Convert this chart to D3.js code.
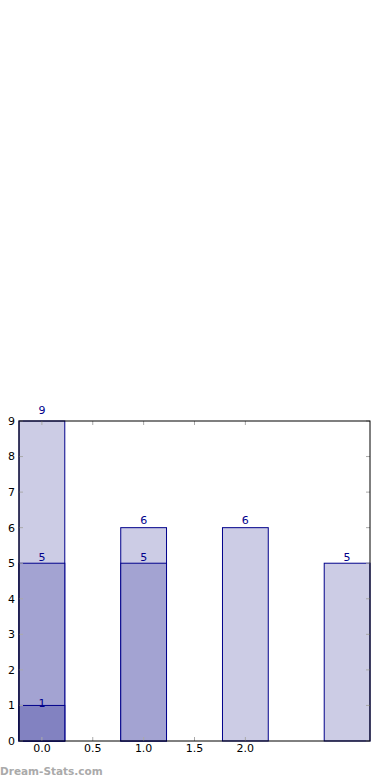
<!DOCTYPE html>
<html lang="en">
  <head>
    <meta charset="UTF-8" />
    <script src="https://d3js.org/d3.v7.min.js"></script>
    <style>
      body { margin: 0; background: #fff; }
      text { font-family: "DejaVu Sans", sans-serif; }
    </style>
  </head>
  <body>
    <div id="chart"></div>
    <script>
      // values
      var positions = [0, 1, 2, 3];
      var seriesLight = [9, 6, 6, 5];
      var seriesMid = [5, 5, 0, 0];
      var seriesDark = [1, 0, 0, 0];
      var xTicks = [0, 0.5, 1, 1.5, 2];
      var yTicks = [0, 1, 2, 3, 4, 5, 6, 7, 8, 9];

      var W = 390, H = 780;
      var margin = { top: 421, right: 20, bottom: 39, left: 19 };
      var width = W - margin.left - margin.right,
        height = H - margin.top - margin.bottom;
      var barW = 0.45;

      var svg = d3.select("#chart").append("svg")
        .attr("width", W).attr("height", H);
      var g = svg.append("g")
        .attr("transform", "translate(" + margin.left + "," + margin.top + ")");

      var x = d3.scaleLinear().domain([-0.225, 3.225]).range([0, width]);
      var y = d3.scaleLinear().domain([0, 9]).range([height, 0]);

      var layers = [
        { vals: seriesLight, fill: "#cccce5" },
        { vals: seriesMid, fill: "#a3a3d2" },
        { vals: seriesDark, fill: "#8282c1" }
      ];

      layers.forEach(function (layer) {
        var data = positions.map(function (p, i) { return { p: p, v: layer.vals[i] }; })
          .filter(function (d) { return d.v > 0; });
        g.selectAll(null).data(data).enter().append("rect")
          .attr("x", function (d) { return x(d.p - barW / 2); })
          .attr("y", function (d) { return y(d.v); })
          .attr("width", function (d) { return x(d.p + barW / 2) - x(d.p - barW / 2); })
          .attr("height", function (d) { return height - y(d.v); })
          .attr("fill", layer.fill)
          .attr("stroke", "#00008b")
          .attr("stroke-width", 1);
      });

      // value labels
      layers.forEach(function (layer) {
        var data = positions.map(function (p, i) { return { p: p, v: layer.vals[i] }; })
          .filter(function (d) { return d.v > 0; });
        g.selectAll(null).data(data).enter().append("text")
          .attr("x", function (d) { return x(d.p); })
          .attr("y", function (d) { return y(1.03 * d.v); })
          .attr("dy", "0.25em")
          .attr("text-anchor", "middle")
          .attr("font-size", 11)
          .attr("fill", "#00008b")
          .text(function (d) { return d.v; });
      });

      // inward grey ticks on all sides
      var tk = 4;
      xTicks.forEach(function (t) {
        g.append("line").attr("x1", x(t)).attr("x2", x(t))
          .attr("y1", height).attr("y2", height - tk).attr("stroke", "#aaa");
        g.append("line").attr("x1", x(t)).attr("x2", x(t))
          .attr("y1", 0).attr("y2", tk).attr("stroke", "#aaa");
        g.append("text").attr("x", x(t)).attr("y", height + 11)
          .attr("text-anchor", "middle").attr("font-size", 11)
          .text(d3.format(".1f")(t));
      });
      yTicks.forEach(function (t) {
        g.append("line").attr("x1", 0).attr("x2", tk)
          .attr("y1", y(t)).attr("y2", y(t)).attr("stroke", "#aaa");
        g.append("line").attr("x1", width).attr("x2", width - tk)
          .attr("y1", y(t)).attr("y2", y(t)).attr("stroke", "#aaa");
        g.append("text").attr("x", -4).attr("y", y(t)).attr("dy", "0.35em")
          .attr("text-anchor", "end").attr("font-size", 11)
          .text(t);
      });

      // frame
      g.append("rect").attr("x", 0).attr("y", 0)
        .attr("width", width).attr("height", height)
        .attr("fill", "none").attr("stroke", "#000").attr("stroke-width", 1);

      // watermark
      svg.append("text").attr("x", 0).attr("y", 775)
        .attr("font-size", 10.5).attr("font-weight", "bold")
        .attr("fill", "#aaa").text("Dream-Stats.com");
    </script>
  </body>
</html>
